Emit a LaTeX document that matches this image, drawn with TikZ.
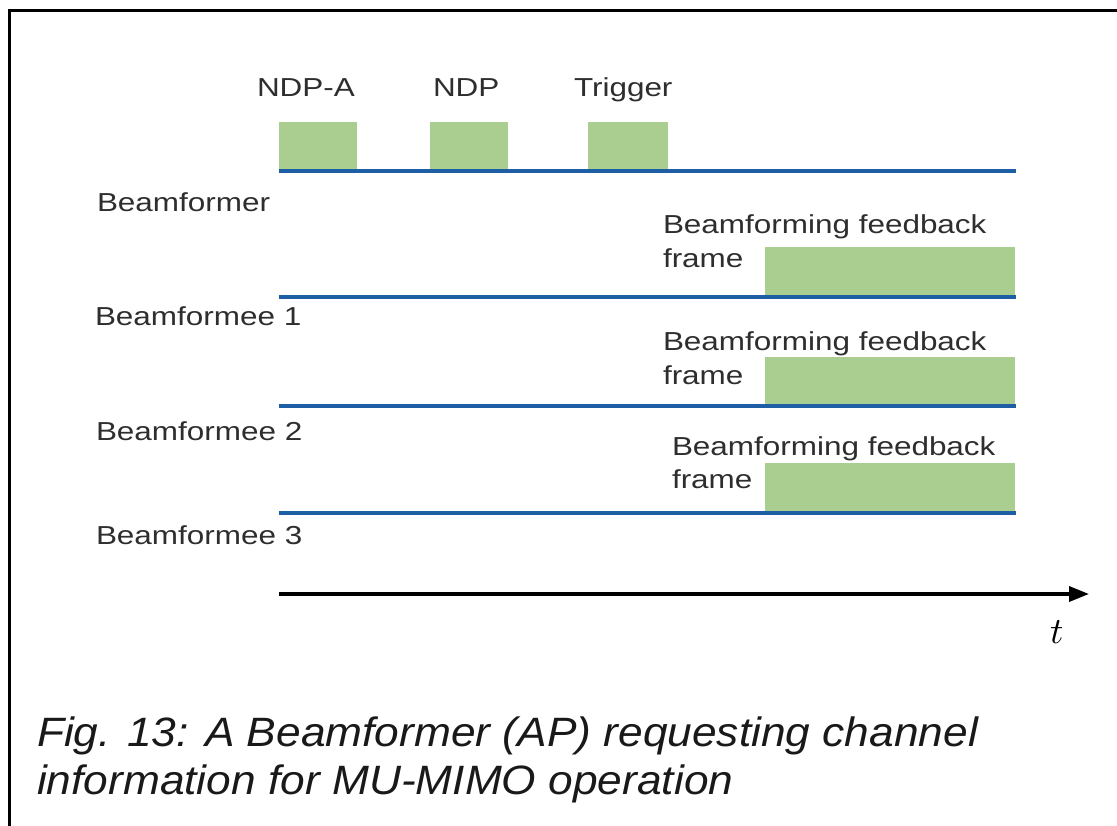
\documentclass[tikz,border=0pt]{standalone}
\usepackage{fontspec}
\setmainfont{Liberation Sans}
\usepackage{graphicx}
\usetikzlibrary{arrows.meta}
\definecolor{boxgreen}{RGB}{169,206,143}
\definecolor{lineblue}{RGB}{30,94,164}
\newcommand{\wl}[1]{\scalebox{1.21}[1]{#1}}
\newcommand{\wcap}[1]{\scalebox{1.08}[1]{#1}}
\begin{document}
\begin{tikzpicture}[x=1pt,y=-1pt,
  lbl/.style={anchor=base west,inner sep=0pt,outer sep=0pt,text=black!82,
    font=\fontsize{26}{33.5}\selectfont},
  capt/.style={anchor=base west,inner sep=0pt,outer sep=0pt,text=black!90,
    font=\fontsize{41}{48}\selectfont\itshape},
  frm/.style={fill=boxgreen,draw=none},
  tl/.style={draw=lineblue,line width=3.5pt},
  axis/.style={draw=black,line width=3.5pt,-{Triangle[length=20pt,width=15pt]}}]
\useasboundingbox (0,0) rectangle (1117,826);
\fill[white] (0,0) rectangle (1117,826);
% frame
\draw[line width=2.5pt] (9.5,826) -- (9.5,10.5) -- (1117,10.5);
% coordinates of time lines
\coordinate (b0s) at (279,171);  \coordinate (b0e) at (1016,171);
\coordinate (b1s) at (279,297);  \coordinate (b1e) at (1016,297);
\coordinate (b2s) at (279,406);  \coordinate (b2e) at (1016,406);
\coordinate (b3s) at (279,513);  \coordinate (b3e) at (1016,513);
\coordinate (ts) at (279,594);   \coordinate (te) at (1089,594);
% frames
\path[frm] (279,122) rectangle (357,169);
\path[frm] (430,122) rectangle (508,169);
\path[frm] (588,122) rectangle (668,169);
\path[frm] (765,247) rectangle (1015,295);
\path[frm] (765,357) rectangle (1015,404);
\path[frm] (765,463) rectangle (1015,511);
% lines
\draw[tl] (b0s) -- (b0e);
\draw[tl] (b1s) -- (b1e);
\draw[tl] (b2s) -- (b2e);
\draw[tl] (b3s) -- (b3e);
\draw[axis] (ts) -- (te);
% labels
\node[lbl] (ndpa) at (257,97) {\wl{NDP-A}};
\node[lbl] (ndp) at (433,97) {\wl{NDP}};
\node[lbl] (trig) at (574,97) {\wl{Trigger}};
\node[lbl] (bf) at (97,212) {\wl{Beamformer}};
\node[lbl] (be1) at (95,326) {\wl{Beamformee 1}};
\node[lbl] (be2) at (96,440) {\wl{Beamformee 2}};
\node[lbl] (be3) at (96,544) {\wl{Beamformee 3}};
\node[lbl] (fb1) at (663,234) {\wl{\begin{tabular}[t]{@{}l@{}}Beamforming feedback\\frame\end{tabular}}};
\node[lbl] (fb2) at (663,351) {\wl{\begin{tabular}[t]{@{}l@{}}Beamforming feedback\\frame\end{tabular}}};
\node[lbl] (fb3) at (672,455) {\wl{\begin{tabular}[t]{@{}l@{}}Beamforming feedback\\frame\end{tabular}}};
\node[anchor=base west,inner sep=0pt] (t) at (1050,643) {\scalebox{3.7}{$t$}};
% caption
\node[capt] (c1) at (37,746) {\wcap{Fig. 13: A Beamformer (AP) requesting channel}};
\node[capt] (c2) at (37,794) {\wcap{information for MU-MIMO operation}};
\end{tikzpicture}
\end{document}
